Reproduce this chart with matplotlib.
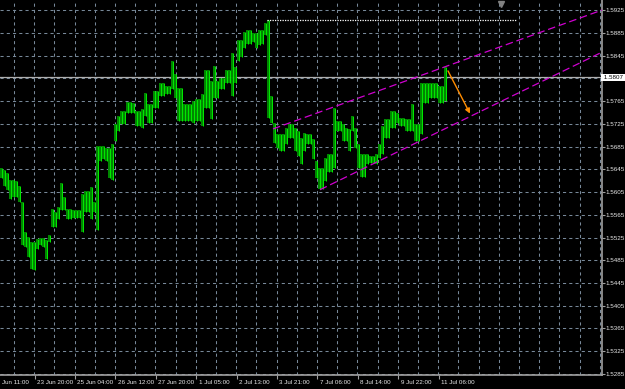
import matplotlib
matplotlib.use('Agg')
import matplotlib.pyplot as plt
import numpy as np

# hourly price range, one entry per 3px column of the screen (highs / lows)
hi = [1.5648, 1.5643, 1.5638, 1.5627, 1.5627, 1.5624, 1.5615, 1.5588, 1.5535, 1.5526,
      1.5517, 1.5517, 1.5523, 1.5524, 1.5524, 1.5521, 1.5530, 1.5576, 1.5570, 1.5579,
      1.5620, 1.5597, 1.5576, 1.5576, 1.5574, 1.5574, 1.5574, 1.5601, 1.5606, 1.5606,
      1.5613, 1.5588, 1.5686, 1.5686, 1.5686, 1.5682, 1.5682, 1.5689, 1.5725, 1.5739,
      1.5748, 1.5748, 1.5764, 1.5764, 1.5762, 1.5748, 1.5748, 1.5751, 1.5780, 1.5760,
      1.5760, 1.5783, 1.5783, 1.5796, 1.5796, 1.5792, 1.5792, 1.5835, 1.5813, 1.5788,
      1.5788, 1.5760, 1.5760, 1.5760, 1.5765, 1.5769, 1.5769, 1.5778, 1.5819, 1.5819,
      1.5801, 1.5826, 1.5801, 1.5806, 1.5806, 1.5820, 1.5819, 1.5849, 1.5824, 1.5872,
      1.5872, 1.5886, 1.5890, 1.5890, 1.5884, 1.5884, 1.5890, 1.5890, 1.5902, 1.5907,
      1.5774, 1.5726, 1.5707, 1.5707, 1.5707, 1.5718, 1.5725, 1.5725, 1.5718, 1.5712,
      1.5700, 1.5709, 1.5707, 1.5707, 1.5698, 1.5659, 1.5647, 1.5647, 1.5664, 1.5671,
      1.5671, 1.5753, 1.5730, 1.5730, 1.5725, 1.5718, 1.5716, 1.5739, 1.5718, 1.5689,
      1.5671, 1.5671, 1.5671, 1.5668, 1.5668, 1.5671, 1.5689, 1.5721, 1.5734, 1.5734,
      1.5748, 1.5748, 1.5744, 1.5735, 1.5735, 1.5734, 1.5734, 1.5760, 1.5725, 1.5725,
      1.5797, 1.5797, 1.5797, 1.5796, 1.5796, 1.5797, 1.5792, 1.5792, 1.5824]
lo = [1.5629, 1.5615, 1.5609, 1.5593, 1.5597, 1.5597, 1.5588, 1.5512, 1.5508, 1.5491,
      1.5469, 1.5468, 1.5505, 1.5512, 1.5508, 1.5487, 1.5517, 1.5544, 1.5544, 1.5558,
      1.5574, 1.5574, 1.5558, 1.5558, 1.5560, 1.5560, 1.5560, 1.5535, 1.5570, 1.5570,
      1.5558, 1.5570, 1.5538, 1.5659, 1.5663, 1.5659, 1.5629, 1.5627, 1.5695, 1.5712,
      1.5725, 1.5725, 1.5744, 1.5744, 1.5744, 1.5721, 1.5721, 1.5718, 1.5739, 1.5726,
      1.5726, 1.5753, 1.5753, 1.5774, 1.5774, 1.5778, 1.5778, 1.5787, 1.5771, 1.5730,
      1.5730, 1.5730, 1.5730, 1.5730, 1.5726, 1.5730, 1.5730, 1.5721, 1.5753, 1.5753,
      1.5734, 1.5771, 1.5771, 1.5787, 1.5787, 1.5796, 1.5796, 1.5774, 1.5797, 1.5836,
      1.5842, 1.5859, 1.5866, 1.5866, 1.5868, 1.5858, 1.5863, 1.5866, 1.5881, 1.5735,
      1.5726, 1.5691, 1.5682, 1.5677, 1.5677, 1.5689, 1.5700, 1.5700, 1.5677, 1.5668,
      1.5654, 1.5677, 1.5689, 1.5689, 1.5663, 1.5629, 1.5611, 1.5611, 1.5624, 1.5641,
      1.5641, 1.5647, 1.5712, 1.5712, 1.5695, 1.5695, 1.5677, 1.5712, 1.5682, 1.5647,
      1.5632, 1.5632, 1.5654, 1.5656, 1.5656, 1.5654, 1.5664, 1.5671, 1.5700, 1.5700,
      1.5718, 1.5718, 1.5726, 1.5721, 1.5721, 1.5712, 1.5712, 1.5712, 1.5695, 1.5695,
      1.5707, 1.5762, 1.5762, 1.5771, 1.5771, 1.5771, 1.5762, 1.5762, 1.5765]

# first label is cut by the left edge of the window
time_labels = ['Jun 11:00', '23 Jun 20:00', '25 Jun 04:00', '26 Jun 12:00',
               '27 Jun 20:00', '1 Jul 05:00', '2 Jul 13:00', '3 Jul 21:00',
               '7 Jul 06:00', '8 Jul 14:00', '9 Jul 22:00', '11 Jul 06:00']
price_ticks = [1.5285, 1.5325, 1.5365, 1.5405, 1.5445, 1.5485, 1.5525, 1.5565, 1.5605,
               1.5645, 1.5685, 1.5725, 1.5765, 1.5805, 1.5845, 1.5885, 1.5925]
bid = 1.5807
swing_high = 1.5907

# objects drawn on the chart (screen x, price)
upper_x, upper_y = [273, 602], [1.5716, 1.5925]
lower_x, lower_y = [320, 602], [1.5609, 1.5851]
high_x = [267, 517]
arrow_from, arrow_to = (448, 1.5818), (470, 1.5743)

col_w = 3
x = np.arange(len(hi)) * col_w + 1

fig = plt.figure(figsize=(6.25, 3.89), dpi=100)
fig.patch.set_facecolor('black')
ax = fig.add_axes([0, 1 - 375 / 389, 602 / 625, 375 / 389])
ax.set_facecolor('black')
ax.set_xlim(0, 602)
ax.set_ylim(1.52832, 1.59427)

grid_kw = dict(color='#778899', lw=0.75, ls=(0, (3, 3)), zorder=1)
for p in price_ticks:
    ax.axhline(p, **grid_kw)
for gx in np.arange(14, 602, 20.2):
    ax.axvline(gx, **grid_kw)

ax.axhline(bid, color='#b0b0b0', lw=0.9, zorder=2)

ax.vlines(x, lo, hi, color='#008a00', lw=1.4, zorder=3)
ax.vlines(x + 0.7, lo, hi, color='#00f000', lw=0.7, zorder=4)

ax.plot(high_x, [swing_high, swing_high], color='white', lw=0.9, ls=(0, (1, 1)), zorder=5)
ax.plot(upper_x, upper_y, color='#d000d0', lw=0.9, ls=(0, (6, 3)), zorder=5)
ax.plot(lower_x, lower_y, color='#d000d0', lw=0.9, ls=(0, (6, 3)), zorder=5)
ax.annotate('', xy=arrow_to, xytext=arrow_from,
            arrowprops=dict(arrowstyle='-|>', color='#ff8c00', lw=1.0,
                            mutation_scale=7, shrinkA=0, shrinkB=0), zorder=6)

# chart shift marker
ax.plot([501], [1.5935], marker='v', color='#808080', ms=4.5, zorder=6, clip_on=False)

for s in ['left', 'top']:
    ax.spines[s].set_visible(False)
for s in ['right', 'bottom']:
    ax.spines[s].set_color('#a0a0a0')
    ax.spines[s].set_linewidth(1.2)

font = dict(family='Liberation Sans', size=4.5, color='#e8e8e8')
ax.yaxis.tick_right()
shown = [p for p in price_ticks if p != 1.5805]
ax.set_yticks(shown)
ax.set_yticklabels([f'{p:.4f}' for p in shown], **font)
ax.tick_params(axis='y', colors='#a0a0a0', length=2, width=0.8, pad=0.6, labelcolor='#e8e8e8')

label_pos = 34.5 + 40.4 * (np.arange(len(time_labels)) - 1)
ax.set_xticks(label_pos[1:])
ax.set_xticklabels([])
ax.tick_params(axis='x', colors='#a0a0a0', length=3, width=0.8)
text_x = label_pos + 2.5
text_x[0] = 2
for tx, lab in zip(text_x, time_labels):
    ax.text(tx, -0.012, lab, transform=ax.get_xaxis_transform(), ha='left', va='top',
            clip_on=False, **font)

ax.text(1.0, bid, ' 1.5807 ', transform=ax.get_yaxis_transform(), ha='left', va='center',
        family='Liberation Sans', size=4.5, color='black',
        bbox=dict(boxstyle='square,pad=0.15', fc='white', ec='none'), clip_on=False, zorder=7)

fig.savefig('out.png', dpi=100, facecolor='black')
